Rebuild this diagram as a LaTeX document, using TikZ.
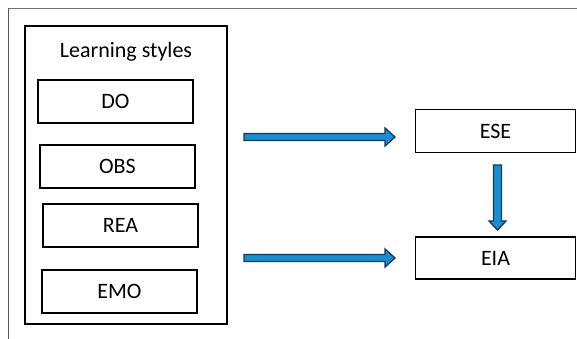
\documentclass[tikz,border=0pt]{standalone}
\usepackage{fontspec}
\setmainfont{Carlito}
\usetikzlibrary{calc}
\definecolor{arrowfill}{HTML}{1B8DCF}
\definecolor{arrowline}{HTML}{0D3B5C}
\definecolor{framegray}{HTML}{707070}
\begin{document}
\begin{tikzpicture}[x=1pt,y=-1pt,
  box/.style={draw=black,line width=1.3pt,minimum width=155pt,minimum height=43pt,inner sep=0pt,font=\fontsize{22}{25}\selectfont},
  fatarrow/.style={draw=arrowline,fill=arrowfill,line width=1.3pt,line join=miter},
  ]
\useasboundingbox (0,0) rectangle (577,339);
% page frame: top and left edges only
\draw[framegray,line width=1.6pt] (577,8.5) -- (8.5,8.5);
\draw[framegray!80!black,line width=1pt] (8.5,8.5) -- (8.5,339);
% learning styles group
\node[draw=black,line width=1.8pt,minimum width=202pt,minimum height=298pt,inner sep=0pt] (group) at (126,175) {};
\node[font=\fontsize{22}{25}\selectfont] (title) at (126,52) {Learning styles};
\node[box] (do) at (115.5,101.5) {DO};
\node[box] (obs) at (117.5,166.5) {OBS};
\node[box] (rea) at (120.5,225.5) {REA};
\node[box] (emo) at (119.5,291.5) {EMO};
% outcome boxes
\node[box,minimum width=160pt,minimum height=43pt] (ese) at (495.5,131) {ESE};
\node[box,minimum width=160pt,minimum height=42pt] (eia) at (495.5,258) {EIA};
% block arrows
\coordinate (a1s) at (244,137);
\coordinate (a1e) at (395,137);
\coordinate (a2s) at (244,258);
\coordinate (a2e) at (395,258);
\coordinate (a3s) at (497.5,165);
\coordinate (a3e) at (497.5,230);
\foreach \s/\e in {a1s/a1e,a2s/a2e}
  \draw[fatarrow] ($(\s)+(0,-3.5)$) -- ($(\e)+(-10,-3.5)$) -- ($(\e)+(-10,-9)$)
    -- (\e) -- ($(\e)+(-10,9)$) -- ($(\e)+(-10,3.5)$) -- ($(\s)+(0,3.5)$) -- cycle;
\draw[fatarrow] ($(a3s)+(-4,0)$) -- ($(a3e)+(-4,-9)$) -- ($(a3e)+(-8.5,-9)$)
    -- (a3e) -- ($(a3e)+(8.5,-9)$) -- ($(a3e)+(4,-9)$) -- ($(a3s)+(4,0)$) -- cycle;
\end{tikzpicture}
\end{document}
